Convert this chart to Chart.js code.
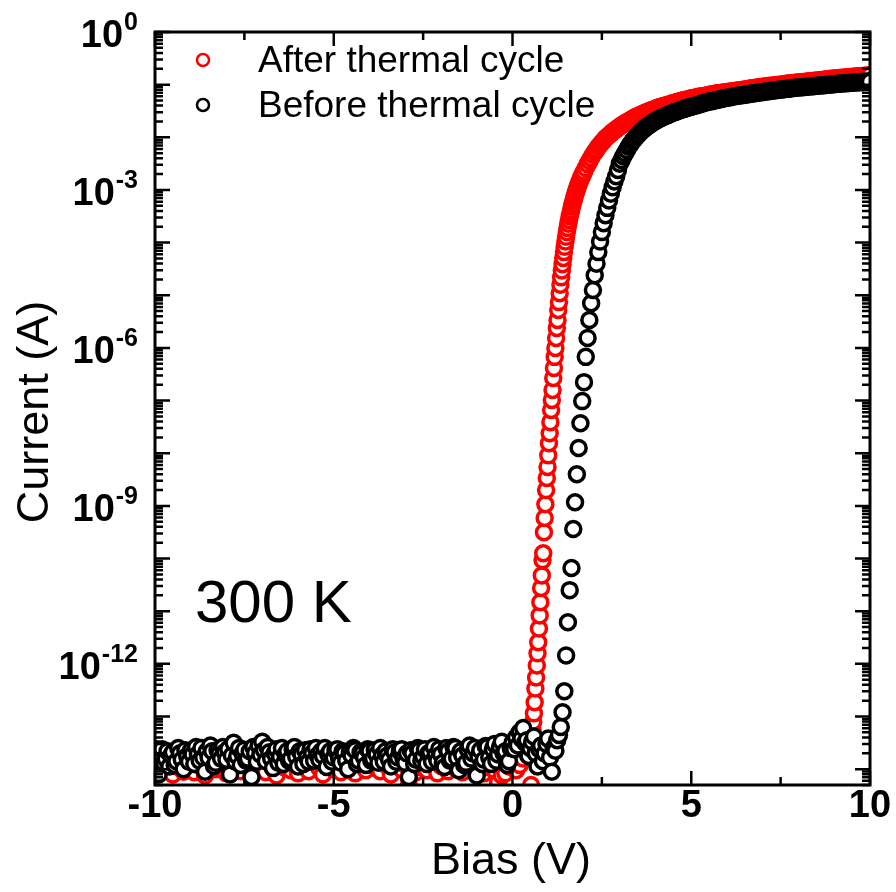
<!DOCTYPE html>
<html>
<head>
<meta charset="utf-8">
<script src="https://cdn.jsdelivr.net/npm/chart.js@4.4.1/dist/chart.umd.min.js"></script>
<style>
  html, body { margin: 0; padding: 0; background: #fff; }
  canvas { display: block; }
</style>
</head>
<body>
<canvas id="chart" width="896" height="892"></canvas>
<script>
// [bias (V), log10 of current (A)]
const afterPoints = [
  [-10.0,-13.98],[-9.9,-14.08],[-9.8,-13.90],[-9.7,-14.02],[-9.6,-13.85],[-9.5,-14.10],[-9.4,-13.95],[-9.3,-13.80],
  [-9.2,-14.05],[-9.1,-13.92],[-9.0,-13.88],[-8.9,-14.06],[-8.8,-13.82],[-8.7,-13.96],[-8.6,-14.12],[-8.5,-13.90],
  [-8.4,-13.78],[-8.3,-14.00],[-8.2,-13.86],[-8.1,-13.94],[-8.0,-14.08],[-7.9,-13.84],[-7.8,-13.98],[-7.7,-13.76],
  [-7.6,-14.04],[-7.5,-13.92],[-7.4,-13.86],[-7.3,-14.10],[-7.2,-13.95],[-7.1,-13.80],[-7.0,-13.90],[-6.9,-14.06],
  [-6.8,-13.84],[-6.7,-13.98],[-6.6,-14.12],[-6.5,-13.88],[-6.4,-13.96],[-6.3,-13.78],[-6.2,-14.02],[-6.1,-13.90],
  [-6.0,-14.08],[-5.9,-13.82],[-5.8,-13.94],[-5.7,-14.04],[-5.6,-13.86],[-5.5,-13.75],[-5.4,-13.98],[-5.3,-14.10],
  [-5.2,-13.88],[-5.1,-13.80],[-5.0,-14.00],[-4.9,-13.92],[-4.8,-14.06],[-4.7,-13.84],[-4.6,-13.72],[-4.5,-13.96],
  [-4.4,-14.08],[-4.3,-13.86],[-4.2,-13.78],[-4.1,-14.02],[-4.0,-13.90],[-3.9,-13.74],[-3.8,-13.98],[-3.7,-14.04],
  [-3.6,-13.82],[-3.5,-13.94],[-3.4,-14.10],[-3.3,-13.88],[-3.2,-13.80],[-3.1,-14.00],[-3.0,-13.92],[-2.9,-14.30],
  [-2.8,-13.86],[-2.7,-14.06],[-2.6,-13.96],[-2.5,-13.78],[-2.4,-14.02],[-2.3,-13.90],[-2.2,-13.84],[-2.1,-14.08],
  [-2.0,-13.94],[-1.9,-13.82],[-1.8,-14.04],[-1.7,-13.88],[-1.6,-13.98],[-1.5,-13.76],[-1.4,-14.06],[-1.3,-13.92],
  [-1.2,-13.84],[-1.1,-14.00],[-1.0,-13.90],[-0.9,-13.80],[-0.8,-14.08],[-0.7,-13.96],[-0.6,-13.86],[-0.5,-14.02],
  [-0.4,-14.25],[-0.3,-14.12],[-0.2,-14.08],[-0.1,-13.95],[0.0,-13.88],[0.1,-14.02],[0.2,-13.92],[0.3,-13.80],
  [0.4,-13.70],[0.44,-13.60],[0.48,-13.45],[0.52,-14.30],[0.56,-13.25],[0.58,-13.10],
  [0.60,-12.94],[0.62,-12.73],[0.64,-12.47],[0.66,-12.26],[0.68,-12.03],[0.70,-11.80],[0.72,-11.59],[0.74,-11.33],
  [0.76,-11.08],[0.78,-10.83],[0.80,-10.56],[0.82,-10.32],[0.84,-10.03],[0.86,-9.90],[0.88,-9.50],[0.90,-9.23],
  [0.92,-8.97],[0.94,-8.70],[0.96,-8.47],[0.98,-8.26],[1.00,-8.04],[1.02,-7.81],[1.04,-7.62],[1.06,-7.41],
  [1.08,-7.18],[1.10,-6.99],[1.12,-6.80],[1.14,-6.57],[1.16,-6.38],[1.18,-6.17],[1.20,-6.00],[1.22,-5.81],
  [1.24,-5.62],[1.26,-5.47],[1.28,-5.28],[1.30,-5.13],[1.32,-4.96],[1.34,-4.80],[1.36,-4.66],[1.38,-4.53],
  [1.40,-4.41],[1.42,-4.29],[1.44,-4.18],[1.46,-4.08],[1.48,-3.98],[1.50,-3.89],[1.52,-3.80],[1.54,-3.72],
  [1.56,-3.64],[1.58,-3.57],[1.60,-3.50],[1.62,-3.44],[1.64,-3.38],[1.66,-3.32],[1.68,-3.27],[1.70,-3.22],
  [1.72,-3.17],[1.74,-3.12],[1.76,-3.07],[1.78,-3.03],[1.80,-2.99],[1.82,-2.95],[1.84,-2.91],[1.86,-2.87],
  [1.88,-2.84],[1.90,-2.80],[1.92,-2.77],[1.94,-2.74],[1.96,-2.71],[1.98,-2.68],
  [2.00,-2.65],[2.05,-2.58],[2.10,-2.51],[2.15,-2.45],[2.20,-2.39],[2.25,-2.33],[2.30,-2.28],[2.35,-2.23],
  [2.40,-2.18],[2.45,-2.14],[2.50,-2.10],[2.55,-2.06],[2.60,-2.02],[2.65,-1.99],[2.70,-1.96],[2.75,-1.93],
  [2.80,-1.90],[2.85,-1.87],[2.90,-1.85],[2.95,-1.82],[3.00,-1.80],[3.05,-1.77],[3.10,-1.75],[3.15,-1.73],
  [3.20,-1.71],[3.25,-1.69],[3.30,-1.67],[3.35,-1.65],[3.40,-1.63],[3.45,-1.61],[3.50,-1.60],[3.55,-1.58],
  [3.60,-1.57],[3.65,-1.55],[3.70,-1.54],[3.75,-1.52],[3.80,-1.51],[3.85,-1.49],[3.90,-1.48],[3.95,-1.47],
  [4.00,-1.46],[4.05,-1.44],[4.10,-1.43],[4.15,-1.42],[4.20,-1.41],[4.25,-1.40],[4.30,-1.39],[4.35,-1.38],
  [4.40,-1.37],[4.45,-1.36],[4.50,-1.35],[4.55,-1.34],[4.60,-1.33],[4.65,-1.32],[4.70,-1.31],[4.75,-1.30],
  [4.80,-1.29],[4.85,-1.285],[4.90,-1.28],[4.95,-1.27],[5.00,-1.26],[5.05,-1.255],[5.10,-1.25],[5.15,-1.24],
  [5.20,-1.23],[5.25,-1.225],[5.30,-1.22],[5.35,-1.215],[5.40,-1.21],[5.45,-1.20],[5.50,-1.19],[5.55,-1.185],
  [5.60,-1.18],[5.65,-1.175],[5.70,-1.17],[5.75,-1.165],[5.80,-1.16],[5.85,-1.155],[5.90,-1.15],[5.95,-1.145],
  [6.00,-1.14],[6.05,-1.135],[6.10,-1.13],[6.15,-1.125],[6.20,-1.12],[6.25,-1.115],[6.30,-1.11],[6.35,-1.105],
  [6.40,-1.10],[6.45,-1.095],[6.50,-1.09],[6.55,-1.085],[6.60,-1.08],[6.65,-1.075],[6.70,-1.07],[6.75,-1.065],
  [6.80,-1.06],[6.85,-1.055],[6.90,-1.05],[6.95,-1.045],[7.00,-1.04],[7.05,-1.035],[7.10,-1.03],[7.15,-1.025],
  [7.20,-1.02],[7.25,-1.02],[7.30,-1.015],[7.35,-1.01],[7.40,-1.005],[7.45,-1.00],[7.50,-1.00],[7.55,-0.995],
  [7.60,-0.99],[7.65,-0.985],[7.70,-0.98],[7.75,-0.98],[7.80,-0.975],[7.85,-0.97],[7.90,-0.965],[7.95,-0.96],
  [8.00,-0.96],[8.05,-0.955],[8.10,-0.95],[8.15,-0.95],[8.20,-0.945],[8.25,-0.94],[8.30,-0.935],[8.35,-0.93],
  [8.40,-0.93],[8.45,-0.925],[8.50,-0.92],[8.55,-0.92],[8.60,-0.915],[8.65,-0.91],[8.70,-0.905],[8.75,-0.90],
  [8.80,-0.90],[8.85,-0.895],[8.90,-0.89],[8.95,-0.89],[9.00,-0.885],[9.05,-0.88],[9.10,-0.88],[9.15,-0.875],
  [9.20,-0.87],[9.25,-0.87],[9.30,-0.865],[9.35,-0.86],[9.40,-0.86],[9.45,-0.855],[9.50,-0.85],[9.55,-0.85],
  [9.60,-0.845],[9.65,-0.84],[9.70,-0.84],[9.75,-0.835],[9.80,-0.835],[9.85,-0.83],[9.90,-0.83],[9.95,-0.825],
  [10.00,-0.82]
]

const beforePoints = [
  [-10.00,-13.75],[-9.95,-13.62],[-9.90,-14.10],[-9.85,-13.70],[-9.80,-13.62],[-9.75,-13.88],[-9.70,-13.80],[-9.65,-13.66],
  [-9.60,-13.95],[-9.55,-13.74],[-9.50,-13.68],[-9.45,-13.92],[-9.40,-13.85],[-9.35,-13.60],[-9.30,-13.70],[-9.25,-13.82],
  [-9.20,-14.00],[-9.15,-13.64],[-9.10,-13.75],[-9.05,-13.86],[-9.00,-13.65],[-8.95,-13.72],[-8.90,-13.90],[-8.85,-13.58],
  [-8.80,-13.72],[-8.75,-13.84],[-8.70,-13.60],[-8.65,-13.78],[-8.60,-14.05],[-8.55,-13.66],[-8.50,-13.78],[-8.45,-13.55],
  [-8.40,-13.66],[-8.35,-13.94],[-8.30,-13.88],[-8.25,-13.64],[-8.20,-13.70],[-8.15,-13.80],[-8.10,-13.58],[-8.05,-13.68],
  [-8.00,-13.82],[-7.95,-13.62],[-7.90,-14.10],[-7.85,-13.74],[-7.80,-13.50],[-7.75,-13.86],[-7.70,-13.75],[-7.65,-13.60],
  [-7.60,-13.92],[-7.55,-13.70],[-7.50,-13.63],[-7.45,-13.84],[-7.40,-13.80],[-7.35,-13.66],[-7.30,-14.15],[-7.25,-13.58],
  [-7.20,-13.70],[-7.15,-13.86],[-7.10,-13.55],[-7.05,-13.72],[-7.00,-13.48],[-6.95,-13.64],[-6.90,-13.85],[-6.85,-13.58],
  [-6.80,-13.68],[-6.75,-13.80],[-6.70,-13.98],[-6.65,-13.70],[-6.60,-13.62],[-6.55,-13.88],[-6.50,-13.76],[-6.45,-13.60],
  [-6.40,-13.90],[-6.35,-13.72],[-6.30,-13.66],[-6.25,-13.84],[-6.20,-13.80],[-6.15,-13.62],[-6.10,-13.58],[-6.05,-13.76],
  [-6.00,-13.95],[-5.95,-13.66],[-5.90,-13.72],[-5.85,-13.90],[-5.80,-13.64],[-5.75,-13.78],[-5.70,-13.86],[-5.65,-13.62],
  [-5.60,-13.70],[-5.55,-13.84],[-5.50,-13.60],[-5.45,-13.74],[-5.40,-13.82],[-5.35,-13.66],[-5.30,-13.75],[-5.25,-13.60],
  [-5.20,-13.96],[-5.15,-13.72],[-5.10,-13.66],[-5.05,-13.86],[-5.00,-13.78],[-4.95,-13.64],[-4.90,-13.62],[-4.85,-13.80],
  [-4.80,-13.88],[-4.75,-13.66],[-4.70,-13.70],[-4.65,-13.84],[-4.60,-14.00],[-4.55,-13.68],[-4.50,-13.74],[-4.45,-13.60],
  [-4.40,-13.64],[-4.35,-13.90],[-4.30,-13.84],[-4.25,-13.68],[-4.20,-13.70],[-4.15,-13.78],[-4.10,-13.92],[-4.05,-13.62],
  [-4.00,-13.66],[-3.95,-13.84],[-3.90,-13.80],[-3.85,-13.64],[-3.80,-13.72],[-3.75,-13.88],[-3.70,-13.60],[-3.65,-13.74],
  [-3.60,-13.86],[-3.55,-13.66],[-3.50,-13.74],[-3.45,-13.82],[-3.40,-13.95],[-3.35,-13.62],[-3.30,-13.68],[-3.25,-13.86],
  [-3.20,-13.78],[-3.15,-13.66],[-3.10,-13.62],[-3.05,-13.80],[-3.00,-13.88],[-2.95,-13.70],[-2.90,-14.15],[-2.85,-13.64],
  [-2.80,-13.70],[-2.75,-13.90],[-2.70,-13.82],[-2.65,-13.60],[-2.60,-13.64],[-2.55,-13.84],[-2.50,-13.76],[-2.45,-13.62],
  [-2.40,-13.90],[-2.35,-13.70],[-2.30,-13.68],[-2.25,-13.86],[-2.20,-13.58],[-2.15,-13.74],[-2.10,-13.84],[-2.05,-13.62],
  [-2.00,-13.72],[-1.95,-13.88],[-1.90,-13.96],[-1.85,-13.60],[-1.80,-13.66],[-1.75,-13.84],[-1.70,-13.80],[-1.65,-13.58],
  [-1.60,-13.60],[-1.55,-13.78],[-1.50,-14.02],[-1.45,-13.66],[-1.40,-13.74],[-1.35,-13.92],[-1.30,-13.88],[-1.25,-13.62],
  [-1.20,-13.55],[-1.15,-13.80],[-1.10,-13.70],[-1.05,-13.60],[-1.00,-14.12],[-0.95,-13.76],[-0.90,-13.64],[-0.85,-13.90],
  [-0.80,-13.82],[-0.75,-13.56],[-0.70,-13.58],[-0.65,-13.78],[-0.60,-13.90],[-0.55,-13.62],[-0.50,-13.52],[-0.45,-13.84],
  [-0.40,-13.72],[-0.35,-13.58],[-0.30,-13.48],[-0.25,-13.70],[-0.20,-13.66],[-0.15,-13.92],[-0.10,-13.85],[-0.05,-13.60],
  [0.00,-13.50],[0.05,-13.62],[0.10,-13.40],[0.15,-13.55],[0.20,-13.30],[0.25,-13.42],[0.30,-13.22],[0.35,-13.50],
  [0.40,-13.45],[0.45,-13.75],[0.50,-13.60],[0.55,-13.48],[0.60,-13.38],[0.65,-13.70],[0.70,-13.95],[0.75,-13.62],
  [0.80,-13.55],[0.85,-13.85],[0.90,-13.70],[0.95,-13.52],[1.00,-13.42],[1.05,-13.78],[1.10,-14.05],[1.15,-13.60],
  [1.20,-13.65],[1.25,-13.45],[1.30,-13.35],[1.35,-13.20],
  [1.40,-12.92],[1.45,-12.52],[1.50,-11.84],[1.55,-11.21],[1.60,-10.60],[1.65,-10.18],[1.70,-9.44],[1.75,-8.93],
  [1.80,-8.40],[1.85,-7.90],[1.90,-7.43],[1.95,-7.01],[2.00,-6.65],[2.05,-6.17],[2.10,-5.81],[2.15,-5.47],
  [2.20,-5.15],[2.25,-4.90],[2.30,-4.62],[2.35,-4.40],[2.40,-4.18],[2.45,-3.98],[2.50,-3.80],[2.55,-3.63],
  [2.60,-3.48],[2.65,-3.34],[2.70,-3.20],[2.75,-3.07],[2.80,-2.95],[2.85,-2.84],[2.90,-2.74],[2.95,-2.62],
  [3.00,-2.50],[3.05,-2.43],[3.10,-2.36],[3.15,-2.30],[3.20,-2.24],[3.25,-2.18],[3.30,-2.13],[3.35,-2.08],
  [3.40,-2.04],[3.45,-2.00],[3.50,-1.96],[3.55,-1.925],[3.60,-1.89],[3.65,-1.86],[3.70,-1.83],[3.75,-1.805],
  [3.80,-1.78],[3.85,-1.755],[3.90,-1.73],[3.95,-1.71],[4.00,-1.69],[4.05,-1.67],[4.10,-1.65],[4.15,-1.635],
  [4.20,-1.62],[4.25,-1.605],[4.30,-1.59],[4.35,-1.575],[4.40,-1.56],[4.45,-1.545],[4.50,-1.53],[4.55,-1.52],
  [4.60,-1.51],[4.65,-1.495],[4.70,-1.48],[4.75,-1.47],[4.80,-1.46],[4.85,-1.45],[4.90,-1.44],[4.95,-1.43],
  [5.00,-1.42],[5.05,-1.41],[5.10,-1.40],[5.15,-1.39],[5.20,-1.38],[5.25,-1.37],[5.30,-1.36],[5.35,-1.35],
  [5.40,-1.34],[5.45,-1.33],[5.50,-1.32],[5.55,-1.315],[5.60,-1.31],[5.65,-1.30],[5.70,-1.29],[5.75,-1.285],
  [5.80,-1.28],[5.85,-1.27],[5.90,-1.26],[5.95,-1.255],[6.00,-1.25],[6.05,-1.245],[6.10,-1.24],[6.15,-1.23],
  [6.20,-1.22],[6.25,-1.215],[6.30,-1.21],[6.35,-1.205],[6.40,-1.20],[6.45,-1.195],[6.50,-1.19],[6.55,-1.185],
  [6.60,-1.18],[6.65,-1.175],[6.70,-1.17],[6.75,-1.165],[6.80,-1.16],[6.85,-1.155],[6.90,-1.15],[6.95,-1.145],
  [7.00,-1.14],[7.05,-1.135],[7.10,-1.13],[7.15,-1.125],[7.20,-1.12],[7.25,-1.115],[7.30,-1.11],[7.35,-1.105],
  [7.40,-1.10],[7.45,-1.095],[7.50,-1.09],[7.55,-1.09],[7.60,-1.085],[7.65,-1.08],[7.70,-1.08],[7.75,-1.075],
  [7.80,-1.07],[7.85,-1.065],[7.90,-1.06],[7.95,-1.06],[8.00,-1.055],[8.05,-1.05],[8.10,-1.05],[8.15,-1.045],
  [8.20,-1.04],[8.25,-1.04],[8.30,-1.035],[8.35,-1.03],[8.40,-1.03],[8.45,-1.025],[8.50,-1.02],[8.55,-1.02],
  [8.60,-1.015],[8.65,-1.01],[8.70,-1.01],[8.75,-1.005],[8.80,-1.00],[8.85,-1.00],[8.90,-0.995],[8.95,-0.99],
  [9.00,-0.99],[9.05,-0.985],[9.10,-0.985],[9.15,-0.98],[9.20,-0.98],[9.25,-0.975],[9.30,-0.975],[9.35,-0.97],
  [9.40,-0.97],[9.45,-0.965],[9.50,-0.965],[9.55,-0.96],[9.60,-0.96],[9.65,-0.955],[9.70,-0.955],[9.75,-0.95],
  [9.80,-0.95],[9.85,-0.945],[9.90,-0.945],[9.95,-0.94],[10.00,-0.94]
]

const seriesNames = ['After thermal cycle', 'Before thermal cycle']
const seriesColors = ['#ff0000', '#000000']
const xMajorTicks = [-10, -5, 0, 5, 10]
const xMinorTicks = [-7.5, -2.5, 2.5, 7.5]
const yLabelExponents = [0, -3, -6, -9, -12]
const yMin = 5e-15
const yMax = 1
const tempLabel = '300 K'

const FONT = '"Liberation Sans", Arial, Helvetica, sans-serif'

const toXY = (pts) => pts.map((p) => ({ x: p[0], y: Math.pow(10, p[1]) }))

// axes, tick labels, legend and annotation drawn by hand
const framePlugin = {
    id: 'frame',
    afterDatasetsDraw(chart) {
        const ctx = chart.ctx
        const area = chart.chartArea
        const xs = chart.scales.x
        const ys = chart.scales.y
        ctx.save()
        ctx.strokeStyle = '#000'
        ctx.fillStyle = '#000'

        // ticks
        ctx.lineWidth = 2.5
        const xTick = (v, len) => {
            const px = xs.getPixelForValue(v)
            ctx.beginPath()
            ctx.moveTo(px, area.bottom)
            ctx.lineTo(px, area.bottom - len)
            ctx.moveTo(px, area.top)
            ctx.lineTo(px, area.top + len)
            ctx.stroke()
        }
        xMajorTicks.forEach((v) => xTick(v, 14))
        xMinorTicks.forEach((v) => xTick(v, 8))

        for (let d = -15; d <= 0; d++) {
            for (let m = 1; m <= 9; m++) {
                const v = m * Math.pow(10, d)
                if (v < yMin || v > yMax * 1.0001) continue
                const py = ys.getPixelForValue(v)
                const len = m === 1 ? 15 : 8
                ctx.beginPath()
                ctx.moveTo(area.left, py)
                ctx.lineTo(area.left + len, py)
                ctx.moveTo(area.right, py)
                ctx.lineTo(area.right - len, py)
                ctx.stroke()
            }
        }

        // frame
        ctx.lineWidth = 3
        ctx.strokeRect(area.left, area.top, area.right - area.left, area.bottom - area.top)

        // x tick labels
        ctx.font = 'bold 38px ' + FONT
        ctx.textAlign = 'center'
        ctx.textBaseline = 'alphabetic'
        xMajorTicks.forEach((v) => {
            ctx.fillText(String(v), xs.getPixelForValue(v), 817)
        })

        // y tick labels 10^n
        ctx.textAlign = 'left'
        yLabelExponents.forEach((e) => {
            const py = ys.getPixelForValue(Math.pow(10, e))
            ctx.font = 'bold 25px ' + FONT
            const sup = String(e)
            const wSup = ctx.measureText(sup).width
            const supX = 138 - wSup
            ctx.fillText(sup, supX, py - 2)
            ctx.font = 'bold 38px ' + FONT
            const wBase = ctx.measureText('10').width
            ctx.fillText('10', supX - wBase - 1, py + 15)
        })

        // axis titles
        ctx.font = '45px ' + FONT
        ctx.textAlign = 'center'
        ctx.fillText('Bias (V)', 511, 874)
        ctx.save()
        ctx.translate(48, 412)
        ctx.rotate(-Math.PI / 2)
        ctx.fillText('Current (A)', 0, 0)
        ctx.restore()

        // temperature
        ctx.font = '60px ' + FONT
        ctx.textAlign = 'left'
        ctx.fillText(tempLabel, 195, 622)

        // legend
        ctx.font = '37px ' + FONT
        seriesNames.forEach((name, i) => {
            const cy = 60 + i * 45
            ctx.beginPath()
            ctx.arc(203, cy, 6, 0, Math.PI * 2)
            ctx.fillStyle = '#fff'
            ctx.fill()
            ctx.lineWidth = 2.5
            ctx.strokeStyle = seriesColors[i]
            ctx.stroke()
            ctx.fillStyle = '#000'
            ctx.fillText(name, 258, cy + 12)
        })
        ctx.restore()
    }
}

const datasetStyle = (color) => ({
    showLine: false,
    pointStyle: 'circle',
    pointRadius: 7.5,
    pointHoverRadius: 7.5,
    pointBorderWidth: 3.5,
    pointBorderColor: color,
    pointBackgroundColor: '#fff',
    borderColor: color,
    backgroundColor: '#fff',
    clip: 0,
})

const chart = new Chart(document.getElementById('chart'), {
    type: 'scatter',
    data: {
        datasets: [
            { label: seriesNames[0], data: toXY(afterPoints), order: 1, ...datasetStyle(seriesColors[0]) },
            { label: seriesNames[1], data: toXY(beforePoints), order: 0, ...datasetStyle(seriesColors[1]) },
        ],
    },
    options: {
        responsive: false,
        animation: false,
        events: [],
        layout: { autoPadding: false, padding: { top: 32, right: 26, left: 0, bottom: 0 } },
        plugins: { legend: { display: false }, tooltip: { enabled: false } },
        scales: {
            x: {
                type: 'linear',
                min: -10,
                max: 10,
                grid: { display: false },
                border: { display: false },
                ticks: { display: false },
                afterFit: (scale) => { scale.height = 107 },
            },
            y: {
                type: 'logarithmic',
                min: yMin,
                max: yMax,
                grid: { display: false },
                border: { display: false },
                ticks: { display: false },
                afterFit: (scale) => { scale.width = 155 },
            },
        },
    },
    plugins: [framePlugin],
})
</script>
</body>
</html>
